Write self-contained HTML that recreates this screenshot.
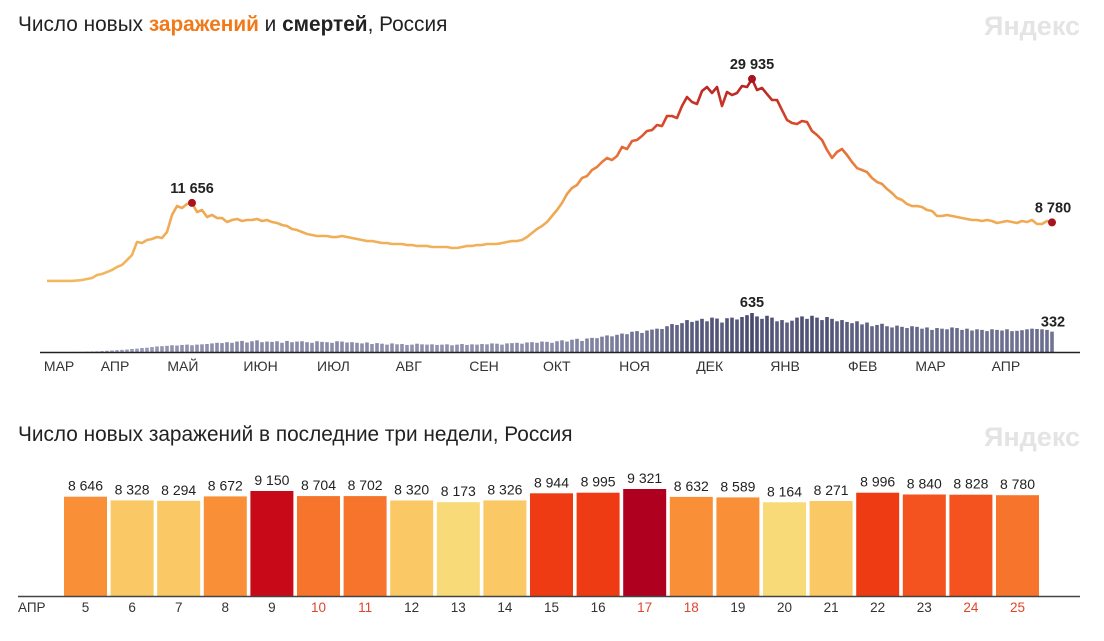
<!DOCTYPE html>
<html><head><meta charset="utf-8"><style>
html,body{margin:0;padding:0;background:#fff;width:1104px;height:641px;overflow:hidden;font-family:"Liberation Sans","DejaVu Sans",sans-serif}
svg text{font-family:"Liberation Sans","DejaVu Sans",sans-serif}
</style></head><body>
<svg id="c" width="1104" height="641" viewBox="0 0 1104 641" xmlns="http://www.w3.org/2000/svg">
<defs><linearGradient id="lg" gradientUnits="userSpaceOnUse" x1="0" y1="282" x2="0" y2="79">
<stop offset="0" stop-color="#f2b860"/><stop offset="0.4" stop-color="#efa650"/><stop offset="0.6" stop-color="#e8783a"/><stop offset="0.8" stop-color="#d6442a"/><stop offset="1" stop-color="#b31f22"/></linearGradient></defs>
<text x="18" y="31" font-size="20.8" fill="#222">Число новых <tspan fill="#f07a1a" font-weight="bold">заражений</tspan> и <tspan font-weight="bold">смертей</tspan>, Россия</text>
<text x="1080" y="35" font-size="27" font-weight="bold" fill="#e4e4e4" text-anchor="end">Яндекс</text>
<text x="18" y="441" font-size="20.8" fill="#222">Число новых заражений в последние три недели, Россия</text>
<text x="1080" y="446" font-size="27" font-weight="bold" fill="#e4e4e4" text-anchor="end">Яндекс</text>
<g id="topg"></g><g id="botg"></g>
</svg>
<script>
const cases=[150,150,150,150,150,150,220,290,440,590,1030,1180,1470,1770,2210,2510,3240,3980,5900,5750,6190,6340,6630,6490,7370,9880,11200,10910,11500,11656,10320,10610,9580,9880,9430,9430,8840,9140,9290,8990,9140,9140,9290,8990,9140,8840,8700,8400,8250,7810,7660,7370,7080,6930,6780,6780,6780,6630,6630,6780,6630,6490,6340,6190,6040,6040,5900,5750,5750,5600,5600,5600,5450,5450,5310,5310,5310,5160,5160,5160,5160,5010,5010,5160,5310,5310,5450,5450,5600,5600,5600,5750,5900,6040,6040,6190,6630,7220,7810,8250,8840,9730,10610,11650,12970,13860,14300,15330,15620,16510,16950,17690,18280,17980,18570,19900,19600,20780,20930,21520,22260,22400,23140,22990,24470,24470,24170,25940,27270,26530,26240,28150,28740,27860,28740,25940,28010,27560,27860,28890,28740,29935,28300,28600,27710,26830,26830,25350,23880,23440,23290,23730,23580,22260,21670,20930,19460,18280,19160,19600,18720,17690,16800,16510,16210,15330,14740,14450,13710,13120,12380,12090,11500,11200,11200,11060,10610,10470,9730,9730,9880,9730,9580,9430,9290,9140,9140,8990,9140,8990,8700,8840,8990,8840,8700,8990,8840,9140,8550,8550,8990,8780];
const deaths=[0,0,0,0,0,0,1,2,5,8,10,15,20,25,30,35,40,50,55,65,70,80,90,95,100,110,105,115,120,110,120,125,130,140,150,145,160,150,170,180,155,175,190,160,170,165,175,150,180,160,170,175,160,150,175,165,160,150,175,170,155,160,150,140,155,130,145,135,120,140,125,130,115,120,135,125,120,125,115,120,125,110,120,130,115,125,120,130,125,140,135,120,140,145,150,135,155,160,150,170,165,150,175,190,170,200,215,180,220,230,225,250,270,255,280,300,290,330,340,310,350,365,380,375,420,455,440,470,520,490,510,540,500,560,545,480,550,560,530,570,600,635,580,540,590,560,500,520,480,510,560,580,540,590,560,520,570,540,500,520,490,470,500,450,480,420,440,460,420,400,430,410,390,420,410,380,400,360,390,380,370,400,390,360,380,350,370,360,340,370,360,350,370,340,345,355,370,380,375,370,360,332];
const months=["МАР","АПР","МАЙ","ИЮН","ИЮЛ","АВГ","СЕН","ОКТ","НОЯ","ДЕК","ЯНВ","ФЕВ","МАР","АПР"];
const monthDay=[5,28,56,88,118,149,180,210,242,273,304,336,364,395];
const recentDays=["5","6","7","8","9","10","11","12","13","14","15","16","17","18","19","20","21","22","23","24","25"];
const recentCases=[8646,8328,8294,8672,9150,8704,8702,8320,8173,8326,8944,8995,9321,8632,8589,8164,8271,8996,8840,8828,8780];
const weekend=[false,false,false,false,false,true,true,false,false,false,false,false,true,true,false,false,false,false,false,true,true];

const NS="http://www.w3.org/2000/svg";
function mk(tag,attrs,parent){const e=document.createElementNS(NS,tag);for(const k in attrs)e.setAttribute(k,attrs[k]);parent.appendChild(e);return e;}
const fmt=v=>String(v).replace(/\B(?=(\d{3})+(?!\d))/g," ");
const X0=47,X1=1052,N=cases.length;
const xi=i=>X0+i*(X1-X0)/(N-1);
const yc=v=>282-v*0.006784;
const yd=v=>352-v*0.0614;
const topG=document.getElementById('topg');
deaths.forEach((d,i)=>{
  if(d<=0)return;
  const t=d/635;
  const r=Math.round(160-t*90),g=Math.round(162-t*90),b=Math.round(190-t*80);
  const el=mk('rect',{x:(xi(i)-1.8).toFixed(2),y:yd(d).toFixed(2),width:3.6,height:(352-yd(d)).toFixed(2),fill:`rgb(${r},${g},${b})`},topG);
  
  
});
const ax=mk('line',{x1:40,y1:352.5,x2:1080,y2:352.5,stroke:'#222','stroke-width':1.6},topG);


months.forEach((m,i)=>{
  const x=X0+monthDay[i]*(X1-X0)/414;
  const t=mk('text',{x:x.toFixed(1),y:371,'font-size':14,fill:'#333','text-anchor':'middle'},topG);t.textContent=m;
  
  
});
let d='';cases.forEach((v,i)=>{d+=(i?'L':'M')+xi(i).toFixed(2)+','+yc(v).toFixed(2);});
const ln=mk('path',{d:d,fill:'none',stroke:'url(#lg)','stroke-width':2.6,'stroke-linejoin':'round'},topG);


function annot(i,v,y,name){
  const c=mk('circle',{cx:xi(i),cy:yc(v),r:4,fill:'#a8141e'},topG);
  
  
  const t=mk('text',{x:xi(i)+(i===N-1?1:0),y:y,'font-size':14.5,'font-weight':'bold',fill:'#222','text-anchor':'middle'},topG);t.textContent=fmt(v);
  
  
}
let pk1=0;for(let i=0;i<100;i++)if(cases[i]>cases[pk1])pk1=i;
let pk2=0;cases.forEach((v,i)=>{if(v>cases[pk2])pk2=i;});
annot(pk1,cases[pk1],yc(cases[pk1])-10,'first-peak');
annot(pk2,cases[pk2],yc(cases[pk2])-10,'cases-peak');
annot(N-1,cases[N-1],yc(cases[N-1])-10,'last-cases');
let dp=0;deaths.forEach((v,i)=>{if(v>deaths[dp])dp=i;});
const dl=mk('text',{x:xi(dp),y:yd(deaths[dp])-6,'font-size':14.5,'font-weight':'bold',fill:'#222','text-anchor':'middle'},topG);dl.textContent=deaths[dp];


const dl2=mk('text',{x:xi(N-1)+1,y:yd(deaths[N-1])-5,'font-size':14.5,'font-weight':'bold',fill:'#222','text-anchor':'middle'},topG);dl2.textContent=deaths[N-1];


const botG=document.getElementById('botg');
const B0=596,BX=64,BP=46.6,BW=43;
const yb=v=>B0-v*0.01148;
function col(v){if(v>=9300)return'#b0001f';if(v>=9100)return'#c80a18';if(v>=8900)return'#ee3b14';if(v>=8800)return'#f4521e';if(v>=8700)return'#f6742c';if(v>=8500)return'#f99038';if(v>=8250)return'#fac864';return'#f8da78';}
recentCases.forEach((v,i)=>{
  const x=BX+i*BP;
  const r=mk('rect',{x:x.toFixed(1),y:yb(v).toFixed(1),width:BW,height:(B0-yb(v)).toFixed(1),fill:col(v)},botG);
  
  
  const t=mk('text',{x:(x+BW/2).toFixed(1),y:(yb(v)-6).toFixed(1),'font-size':14,fill:'#222','text-anchor':'middle'},botG);t.textContent=fmt(v);
  
  
  const l=mk('text',{x:(x+BW/2).toFixed(1),y:612,'font-size':13.5,fill:weekend[i]?'#e0452a':'#333','text-anchor':'middle'},botG);l.textContent=recentDays[i];
  
  
});
const bax=mk('line',{x1:18,y1:596.5,x2:1080,y2:596.5,stroke:'#444','stroke-width':1.6},botG);


const ap=mk('text',{x:18,y:612,'font-size':13.5,fill:'#333'},botG);ap.textContent='АПР';


</script>
</body></html>
